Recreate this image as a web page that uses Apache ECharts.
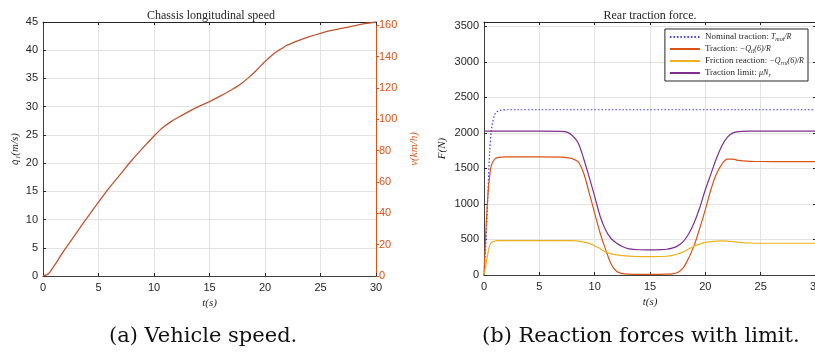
<!DOCTYPE html>
<html>
<head>
<meta charset="utf-8">
<script src="https://cdn.jsdelivr.net/npm/echarts@6/dist/echarts.min.js"></script>
<style>
  html, body { margin: 0; padding: 0; background: #fff; }
  #main { width: 815px; height: 353px; }
</style>
</head>
<body>
<div id="main"></div>
<script>
// (a) chassis longitudinal speed, m/s
var tSpeed = [0, 0.5, 1, 1.5, 2, 3, 4, 5, 6, 7, 8, 9, 10, 10.5, 11, 11.5, 12, 13, 14, 15, 16, 17, 17.5, 18, 18.5, 19, 19.5, 20, 20.5, 21, 21.5, 22, 22.5, 23, 24, 25, 26, 27, 28, 29, 30];
var speed = [0, 0.4, 1.8, 3.3, 4.8, 7.6, 10.4, 13.1, 15.7, 18.1, 20.5, 22.7, 24.8, 25.8, 26.6, 27.3, 27.9, 29.0, 30.0, 30.9, 31.9, 33.0, 33.6, 34.3, 35.1, 36.0, 37.0, 38.0, 38.9, 39.7, 40.3, 40.9, 41.3, 41.7, 42.4, 43.0, 43.5, 43.9, 44.3, 44.7, 45.0];

// (b) rear traction forces, N
var tForce = [0, 0.15, 0.3, 0.5, 0.7, 1, 1.3, 1.6, 2, 3, 5, 7, 7.5, 8, 8.5, 9, 9.5, 10, 10.5, 11, 11.5, 12, 12.5, 13, 14, 15, 16, 16.5, 17, 17.5, 18, 18.5, 19, 19.5, 20, 20.5, 21, 21.5, 22, 22.5, 23, 24, 25, 27, 30];
var nominal = [0, 380, 900, 1700, 2080, 2270, 2310, 2322, 2325, 2325, 2325, 2325, 2325, 2325, 2325, 2325, 2325, 2325, 2325, 2325, 2325, 2325, 2325, 2325, 2325, 2325, 2325, 2325, 2325, 2325, 2325, 2325, 2325, 2325, 2325, 2325, 2325, 2325, 2325, 2325, 2325, 2325, 2325, 2325, 2325];
var traction = [0, 550, 1000, 1380, 1560, 1635, 1655, 1660, 1662, 1662, 1662, 1658, 1652, 1635, 1595, 1435, 1160, 870, 588, 353, 150, 50, 20, 12, 10, 10, 10, 12, 15, 35, 100, 240, 420, 660, 920, 1200, 1420, 1560, 1630, 1630, 1612, 1600, 1597, 1595, 1595];
var friction = [0, 120, 260, 410, 460, 478, 483, 485, 485, 485, 485, 485, 485, 483, 478, 465, 445, 412, 370, 325, 297, 282, 272, 265, 259, 258, 260, 264, 275, 295, 325, 365, 405, 435, 458, 470, 477, 480, 478, 470, 460, 450, 447, 447, 447];
var limit = [2025, 2025, 2025, 2025, 2025, 2025, 2025, 2025, 2025, 2025, 2025, 2022, 2010, 1960, 1860, 1640, 1380, 1106, 824, 630, 510, 447, 400, 372, 355, 353, 356, 362, 378, 410, 470, 580, 740, 950, 1200, 1420, 1640, 1820, 1940, 2000, 2018, 2024, 2025, 2025, 2025];

var seriesKeys = ['nominal', 'traction', 'friction', 'limit'];
var legendNames = ['Nominal traction: ', 'Traction: ', 'Friction reaction: ', 'Traction limit: '];

function pairs(ts, vs) {
  return ts.map(function (t, i) { return [t, vs[i]]; });
}

var ink = '#262626';
var orange = '#D95319';
var serif = 'Liberation Serif';
var sans = 'Liberation Sans';

function xBottom(grid) {
  return {
    type: 'value', gridIndex: grid, min: 0, max: 30, interval: 5,
    axisLine: { onZero: false, lineStyle: { color: '#404040', width: 1 } },
    axisTick: { inside: true, length: 3, lineStyle: { color: ink } },
    axisLabel: { color: ink, fontSize: 11, fontFamily: sans, margin: 6 },
    splitLine: { show: true, lineStyle: { color: '#e2e2e2' } },
    name: 't(s)', nameLocation: 'middle', nameGap: 18,
    nameTextStyle: { fontFamily: serif, fontStyle: 'italic', fontSize: 11, color: ink }
  };
}
function xTop(grid) {
  return {
    type: 'value', gridIndex: grid, position: 'top', min: 0, max: 30, interval: 5,
    axisLine: { onZero: false, lineStyle: { color: ink } },
    axisTick: { inside: true, length: 3, lineStyle: { color: ink } },
    axisLabel: { show: false }, splitLine: { show: false }
  };
}
function plain(v) { return String(v); }

var chart = echarts.init(document.getElementById('main'));
chart.setOption({
  animation: false,
  backgroundColor: '#fff',
  title: [
    { text: 'Chassis longitudinal speed', left: 206, top: 5, textAlign: 'center',
      textStyle: { fontFamily: serif, fontWeight: 'normal', fontSize: 12, color: ink } },
    { text: 'Rear traction force.', left: 645, top: 5, textAlign: 'center',
      textStyle: { fontFamily: serif, fontWeight: 'normal', fontSize: 12, color: ink } }
  ],
  graphic: [
    { type: 'text', left: 109, top: 326,
      style: { text: '(a) Vehicle speed.', font: '21px "DejaVu Serif"', fill: '#111' } },
    { type: 'text', left: 482, top: 326,
      style: { text: '(b) Reaction forces with limit.', font: '21px "DejaVu Serif"', fill: '#111' } }
  ],
  grid: [
    { left: 43, right: 439, top: 22, bottom: 77, outerBoundsMode: 'none' },
    { left: 484, right: -1, top: 22, bottom: 78, outerBoundsMode: 'none' }
  ],
  legend: {
    data: seriesKeys,
    orient: 'vertical', right: 7, top: 29,
    backgroundColor: '#fff', borderColor: ink, borderWidth: 1,
    padding: [3, 4, 3, 4], itemGap: 2, itemWidth: 30, itemHeight: 10,
    itemStyle: { opacity: 0 },
    formatter: function (name) {
      var i = seriesKeys.indexOf(name);
      var tails = ['{m|T}{s|mot}{m|/R}', '{m|−Q}{s|tl}{m|(6)/R}', '{m|−Q}{s|rnl}{m|(6)/R}', '{m|μN}{s|r}'];
      return legendNames[i] + tails[i];
    },
    textStyle: {
      fontFamily: serif, fontSize: 9, color: ink, lineHeight: 10,
      rich: {
        m: { fontFamily: serif, fontStyle: 'italic', fontSize: 8, color: ink },
        s: { fontFamily: serif, fontStyle: 'italic', fontSize: 6, color: ink, padding: [4, 0, 0, 0] }
      }
    }
  },
  xAxis: [xBottom(0), xTop(0), xBottom(1), xTop(1)],
  yAxis: [
    {
      type: 'value', gridIndex: 0, position: 'left', min: 0, max: 45, interval: 5,
      axisLine: { show: true, onZero: false, lineStyle: { color: '#404040' } },
      axisTick: { show: true, inside: true, length: 3, lineStyle: { color: ink } },
      axisLabel: { color: ink, fontSize: 11, fontFamily: sans, margin: 5 },
      splitLine: { show: true, lineStyle: { color: '#e2e2e2' } },
      name: 'q̇₁(m/s)', nameLocation: 'middle', nameGap: 22, nameRotate: 90,
      nameTextStyle: { fontFamily: serif, fontStyle: 'italic', fontSize: 11, color: ink }
    },
    {
      type: 'value', gridIndex: 0, position: 'right', min: 0, max: 162, interval: 20,
      axisLine: { show: true, onZero: false, lineStyle: { color: orange } },
      axisTick: { show: true, inside: false, length: 3, lineStyle: { color: orange } },
      axisLabel: { color: orange, fontSize: 11, fontFamily: sans, margin: 3, showMaxLabel: false },
      splitLine: { show: false },
      name: 'v(km/h)', nameLocation: 'middle', nameGap: 33, nameRotate: 90,
      nameTextStyle: { fontFamily: serif, fontStyle: 'italic', fontSize: 11, color: orange }
    },
    {
      type: 'value', gridIndex: 1, position: 'left', min: 0, max: 3560, interval: 500,
      axisLine: { show: true, onZero: false, lineStyle: { color: '#404040' } },
      axisTick: { show: true, inside: true, length: 3, lineStyle: { color: ink } },
      axisLabel: { color: ink, fontSize: 11, fontFamily: sans, margin: 5, showMaxLabel: false, formatter: plain },
      splitLine: { show: true, lineStyle: { color: '#e2e2e2' } },
      name: 'F(N)', nameLocation: 'middle', nameGap: 36, nameRotate: 90,
      nameTextStyle: { fontFamily: serif, fontStyle: 'italic', fontSize: 11, color: ink }
    },
    {
      type: 'value', gridIndex: 1, position: 'right', min: 0, max: 3560, interval: 500,
      axisLine: { show: true, onZero: false, lineStyle: { color: ink } },
      axisTick: { show: true, inside: true, length: 3, lineStyle: { color: ink } },
      axisLabel: { show: false }, splitLine: { show: false }
    }
  ],
  series: [
    { name: 'speed', type: 'line', xAxisIndex: 0, yAxisIndex: 0, symbol: 'none', smooth: 0.3,
      lineStyle: { color: '#BF5430', width: 1.3 }, data: pairs(tSpeed, speed) },
    { name: 'nominal', type: 'line', xAxisIndex: 2, yAxisIndex: 2, symbol: 'none', smooth: 0.3,
      itemStyle: { color: '#3b3bff' },
      lineStyle: { color: '#3b3bff', width: 1.2, type: [1.5, 2] }, data: pairs(tForce, nominal) },
    { name: 'traction', type: 'line', xAxisIndex: 2, yAxisIndex: 2, symbol: 'none', smooth: 0.3,
      itemStyle: { color: orange },
      lineStyle: { color: orange, width: 1.2 }, data: pairs(tForce, traction) },
    { name: 'friction', type: 'line', xAxisIndex: 2, yAxisIndex: 2, symbol: 'none', smooth: 0.3,
      itemStyle: { color: '#EDB120' },
      lineStyle: { color: '#EDB120', width: 1.2 }, data: pairs(tForce, friction) },
    { name: 'limit', type: 'line', xAxisIndex: 2, yAxisIndex: 2, symbol: 'none', smooth: 0.3,
      itemStyle: { color: '#7E2F8E' },
      lineStyle: { color: '#7E2F8E', width: 1.2 }, data: pairs(tForce, limit) }
  ]
});
</script>
</body>
</html>
